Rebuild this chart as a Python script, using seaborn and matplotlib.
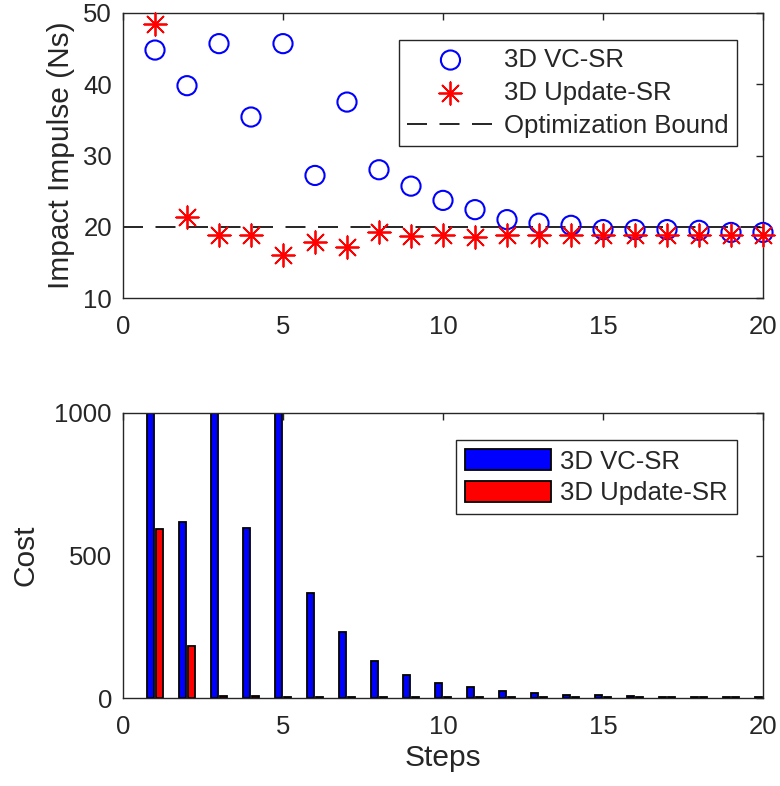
import matplotlib
matplotlib.use("Agg")
import matplotlib.pyplot as plt
import seaborn as sns
import numpy as np
import pandas as pd

# ---- data ----
steps = list(range(1, 21))
vc_impulse = [44.8, 39.8, 45.7, 35.4, 45.7, 27.2, 37.5, 28.0, 25.7, 23.7,
              22.4, 21.0, 20.5, 20.2, 19.6, 19.6, 19.6, 19.5, 19.2, 19.2]
upd_impulse = [48.5, 21.4, 18.9, 18.9, 16.0, 17.8, 17.2, 19.2, 18.7, 18.9,
               18.6, 18.9, 18.9, 18.9, 18.9, 18.9, 18.9, 18.9, 18.9, 18.9]
bound_x = [0, 20]
bound_y = [20, 20]

vc_cost = [1500, 619, 1500, 596, 1500, 369, 230, 131, 82, 53,
           37, 24, 17, 12, 9, 6, 5, 4, 3.5, 3]
upd_cost = [592, 183, 8, 7, 5, 4, 3.5, 3, 3, 3,
            3, 3, 3, 3, 3, 3, 3, 3, 3, 3]
series_names = ["3D VC-SR", "3D Update-SR"]

# ---- style ----
sns.set_style("white")
TXT = "#262626"
plt.rcParams["font.family"] = ["Liberation Sans", "DejaVu Sans"]
plt.rcParams["text.color"] = TXT
plt.rcParams["axes.labelcolor"] = TXT
plt.rcParams["xtick.color"] = TXT
plt.rcParams["ytick.color"] = TXT
plt.rcParams["axes.edgecolor"] = TXT

TICK_FS = 18.5
LAB_FS = 21.5

fig = plt.figure(figsize=(7.8, 7.86), dpi=100)
ax1 = fig.add_axes([123 / 780, 1 - 298 / 786, 640 / 780, 285 / 786])
ax2 = fig.add_axes([123 / 780, 1 - 698 / 786, 640 / 780, 285 / 786])

# ---- top panel ----
sns.scatterplot(x=steps, y=vc_impulse, ax=ax1, marker="o", s=190,
                color="none", edgecolor="blue", linewidth=1.5,
                label=series_names[0], zorder=3)
ax1.collections[-1].set_clip_on(False)
sns.scatterplot(x=steps, y=upd_impulse, ax=ax1, marker=(8, 2, 0), s=260,
                color="red", edgecolor="red", linewidth=1.3,
                label=series_names[1], zorder=4)
ax1.collections[-1].set_clip_on(False)
sns.lineplot(x=bound_x, y=bound_y, ax=ax1, color="black",
             linestyle=(0, (12, 7.5)), linewidth=1.2,
             label="Optimization Bound", zorder=2)

ax1.set_xlim(0, 20)
ax1.set_ylim(10, 50)
ax1.set_xticks([0, 5, 10, 15, 20])
ax1.set_yticks([10, 20, 30, 40, 50])
ax1.set_ylabel("Impact Impulse (Ns)", fontsize=LAB_FS, labelpad=6)
ax1.set_xlabel("")

h, l = ax1.get_legend_handles_labels()
ax1.legend(h, l, loc="upper right", bbox_to_anchor=(0.959, 0.905),
           borderaxespad=0, fontsize=TICK_FS, frameon=True, fancybox=False,
           edgecolor=TXT, framealpha=1, handlelength=3.4, handletextpad=0.4,
           labelspacing=0.36, borderpad=0.3, scatterpoints=1)
ax1.get_legend().get_frame().set_linewidth(1.0)

# ---- bottom panel ----
df = pd.DataFrame({
    "step": steps * 2,
    "cost": vc_cost + upd_cost,
    "method": [series_names[0]] * len(steps) + [series_names[1]] * len(steps),
})
sns.barplot(data=df, x="step", y="cost", hue="method", ax=ax2,
            native_scale=True, dodge=True, width=0.572, gap=0.2,
            palette={series_names[0]: "blue", series_names[1]: "red"},
            edgecolor="black", linewidth=1.3, errorbar=None, saturation=1)

ax2.set_xlim(0, 20)
ax2.set_ylim(0, 1000)
ax2.set_xticks([0, 5, 10, 15, 20])
ax2.set_yticks([0, 500, 1000])
ax2.set_ylabel("Cost", fontsize=LAB_FS, labelpad=11)
ax2.set_xlabel("Steps", fontsize=LAB_FS, labelpad=4)

h, l = ax2.get_legend_handles_labels()
ax2.legend(h, l, loc="upper right", bbox_to_anchor=(0.959, 0.905),
           borderaxespad=0, fontsize=TICK_FS, frameon=True, fancybox=False,
           edgecolor=TXT, framealpha=1, handlelength=3.35, handleheight=0.9,
           handletextpad=0.35, labelspacing=0.28, borderpad=0.35)
ax2.get_legend().get_frame().set_linewidth(1.0)

for ax in (ax1, ax2):
    ax.tick_params(direction="in", top=True, right=True, length=5,
                   width=1.0, labelsize=TICK_FS)
    ax.tick_params(axis="x", pad=12)
    ax.tick_params(axis="y", pad=8)
    for sp in ax.spines.values():
        sp.set_visible(True)
        sp.set_linewidth(1.0)
        sp.set_color(TXT)

fig.savefig("out.png", dpi=100, facecolor="white")
